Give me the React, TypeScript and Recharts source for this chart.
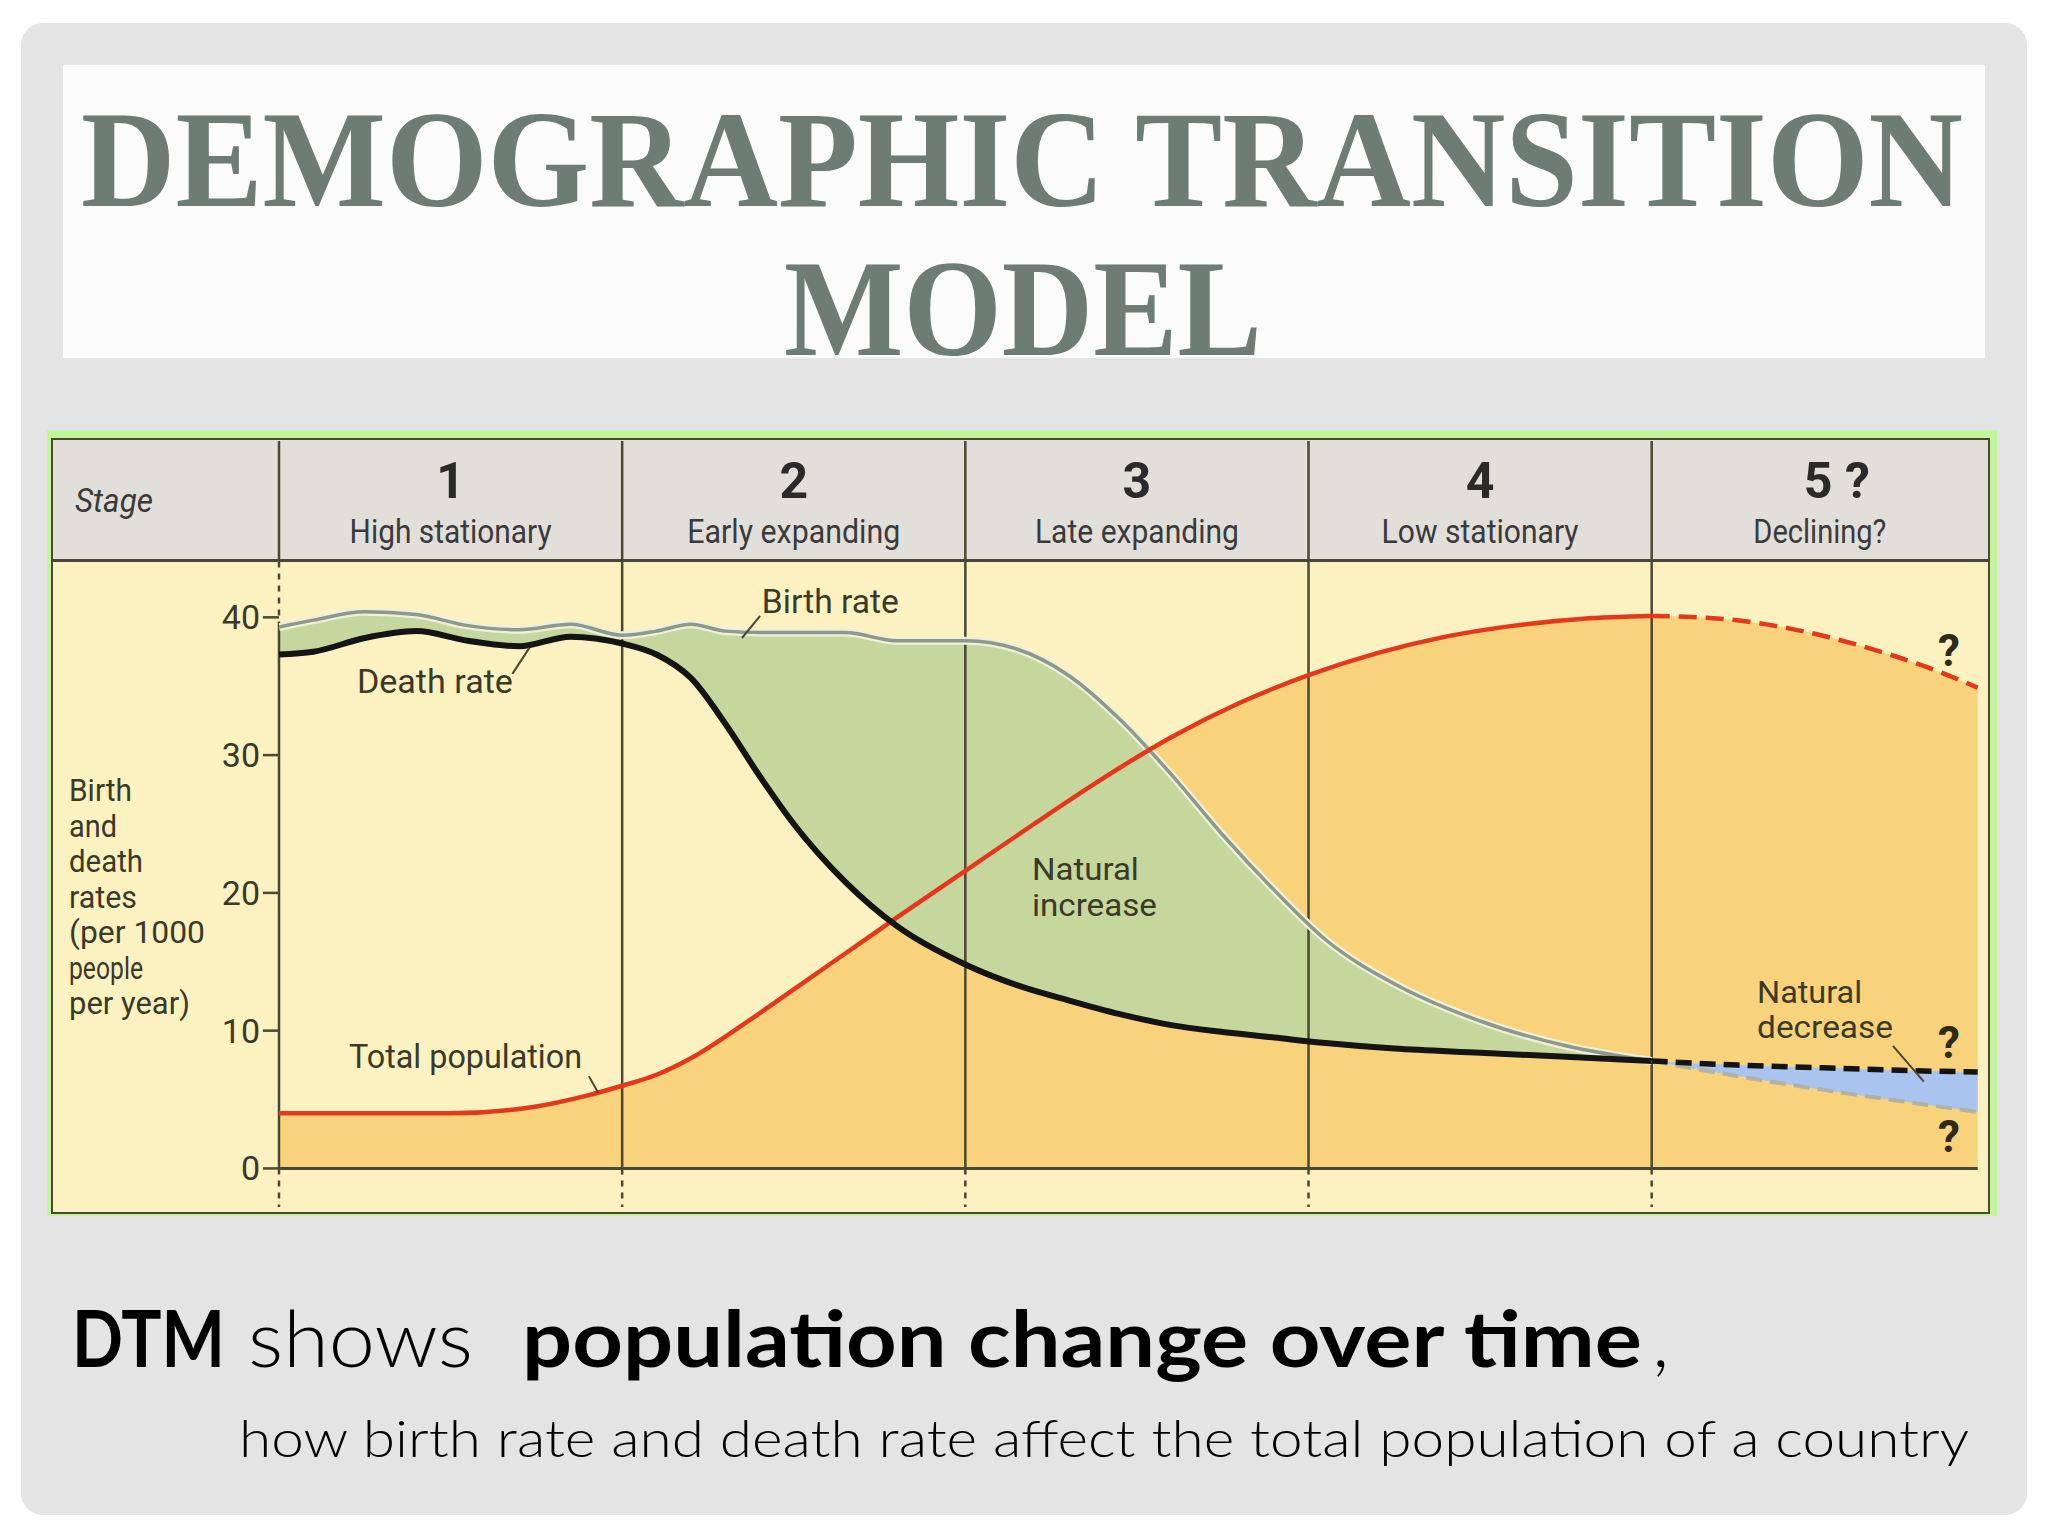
import {
  ComposedChart,
  Area,
  Line,
  XAxis,
  YAxis,
  ReferenceLine,
  ReferenceDot,
} from 'recharts';

// x = position in stages (0 = start of stage 1, 4 = start of stage 5)
const rateX = [0, 0.1, 0.25, 0.4, 0.55, 0.7, 0.85, 1.0, 1.1, 1.2, 1.3, 1.4, 1.5, 1.65, 1.8, 2.0, 2.15, 2.3, 2.45, 2.6, 2.75, 2.9, 3.05, 3.25, 3.5, 3.75, 4.0];
const birthRate = [39.3, 39.8, 40.4, 40.2, 39.4, 39.1, 39.5, 38.7, 39.0, 39.5, 39.0, 38.9, 38.9, 38.9, 38.3, 38.3, 37.7, 35.8, 32.6, 28.6, 24.2, 20.2, 16.6, 13.4, 10.7, 8.9, 7.8];
const deathRate = [37.3, 37.5, 38.5, 39.0, 38.3, 37.9, 38.6, 38.1, 37.3, 35.6, 32.3, 28.5, 25.0, 20.8, 17.6, 14.8, 13.3, 12.2, 11.2, 10.4, 9.9, 9.5, 9.1, 8.7, 8.4, 8.1, 7.8];

const popX = [0, 0.25, 0.5, 0.75, 0.9, 1.0, 1.1, 1.2, 1.35, 1.5, 1.65, 1.8, 2.0, 2.2, 2.4, 2.6, 2.8, 3.0, 3.2, 3.4, 3.6, 3.8, 4.0, 4.2, 4.4, 4.6, 4.8, 4.95];
const totalPop = [4.0, 4.0, 4.0, 4.5, 5.3, 6.0, 6.8, 8.0, 10.4, 13.0, 15.6, 18.2, 21.6, 25.0, 28.3, 31.3, 33.8, 35.8, 37.4, 38.6, 39.4, 39.9, 40.1, 39.9, 39.2, 38.0, 36.4, 34.9];

// stage 5 projections
const projX = [4.0, 4.25, 4.5, 4.75, 4.95];
const projDeath = [7.8, 7.5, 7.3, 7.1, 7.0];
const projBirth = [7.8, 6.7, 5.7, 4.8, 4.1];

const yTicks = [0, 10, 20, 30, 40];
const stageNums = ['1', '2', '3', '4', '5 ?'];
const stageNames = ['High stationary', 'Early expanding', 'Late expanding', 'Low stationary', 'Declining?'];
const stageNameW = [202, 213, 204, 197, 133];
const yTitle = ['Birth', 'and', 'death', 'rates', '(per 1000', 'people', 'per year)'];
const yTitleW = [63, 48, 74, 68, 136, 74, 121];

const notes = [
  { s: 1.407, v: 40.3, text: 'Birth rate', w: 137, size: 34 },
  { s: 0.227, v: 34.5, text: 'Death rate', w: 156, size: 34 },
  { s: 0.204, v: 7.3, text: 'Total population', w: 233, size: 34 },
  { s: 2.194, v: 20.9, text: 'Natural', w: 107, size: 31 },
  { s: 2.194, v: 18.3, text: 'increase', w: 125, size: 31 },
  { s: 4.307, v: 12.0, text: 'Natural', w: 105, size: 31 },
  { s: 4.307, v: 9.5, text: 'decrease', w: 136, size: 31 },
];
const questionMarks = [36.5, 8.0, 1.2];
const leaders = [
  [1.402, 40.1, 1.349, 38.5],
  [0.68, 35.9, 0.73, 37.8],
  [0.903, 6.7, 0.93, 5.5],
  [4.703, 8.9, 4.793, 6.3],
];

const birthData = rateX.map((s, i) => ({ s, v: birthRate[i] }));
const deathData = rateX.map((s, i) => ({ s, v: deathRate[i] }));
const gapData = rateX.map((s, i) => ({ s, range: [deathRate[i], birthRate[i]] }));
const popData = popX.map((s, i) => ({ s, v: totalPop[i] }));
const popSolid = popData.filter((d) => d.s <= 4);
const popDash = popData.filter((d) => d.s >= 4);
const projDeathData = projX.map((s, i) => ({ s, v: projDeath[i] }));
const projBirthData = projX.map((s, i) => ({ s, v: projBirth[i] }));
const projGap = projX.map((s, i) => ({ s, range: [projBirth[i], projDeath[i]] }));

const CHART = { left: 53, top: 441, width: 1935, height: 766 };
const PLOT_LEFT = 279;
const Y_AXIS_W = 70;
const X_MAX = 4.98;
const Y_MIN = -2.8;
const Y_MAX = 52.8;
const HEADER_V = 44.05;
const stagePx = (CHART.left + CHART.width - PLOT_LEFT) / X_MAX;
const sx = (s: number) => PLOT_LEFT + s * stagePx;

const INK = '#4a4733';
const TEXT = '#3b3928';
const FONT = 'Roboto, "Open Sans", sans-serif';
const TITLE_FONT = '"Liberation Serif", serif';

const noteShape = (text: string, w: number, size: number) => (p: any) => (
  <text
    x={p.cx}
    y={p.cy}
    fontFamily={FONT}
    fontSize={size}
    fill={TEXT}
    textLength={w}
    lengthAdjust="spacingAndGlyphs"
  >
    {text}
  </text>
);

const qShape = (p: any) => (
  <text x={p.cx} y={p.cy} fontFamily={FONT} fontSize={44} fontWeight={700} fill="#2e2b1c" textAnchor="middle">
    ?
  </text>
);

export default function App() {
  const stageCenters = [0, 1, 2, 3].map((i) => sx(i + 0.5)).concat([(sx(4) + CHART.left + CHART.width) / 2]);

  return (
    <div style={{ position: 'absolute', left: 0, top: 0, width: 2048, height: 1536, background: '#ffffff', overflow: 'hidden' }}>
      {/* slide */}
      <div style={{ position: 'absolute', left: 21, top: 23, width: 2006, height: 1492, background: '#e4e4e4', borderRadius: 22 }} />
      <div style={{ position: 'absolute', left: 63, top: 65, width: 1922, height: 293, background: '#fbfbfb' }} />

      {/* chart frame */}
      <div style={{ position: 'absolute', left: 47, top: 430, width: 1950, height: 786, background: '#c3f59d' }} />
      <div
        style={{
          position: 'absolute',
          left: 51,
          top: 438,
          width: 1939,
          height: 776,
          boxSizing: 'border-box',
          border: `2.5px solid ${INK}`,
          background: '#fcf2c1',
        }}
      />
      <div
        style={{
          position: 'absolute',
          left: 53,
          top: 440,
          width: 1935,
          height: 122,
          boxSizing: 'border-box',
          borderBottom: `3px solid ${INK}`,
          background: '#e2deda',
        }}
      />

      <div style={{ position: 'absolute', left: CHART.left, top: CHART.top }}>
        <ComposedChart
          width={CHART.width}
          height={CHART.height}
          margin={{ top: 0, right: 0, bottom: 0, left: PLOT_LEFT - CHART.left - Y_AXIS_W }}
        >
          <XAxis type="number" dataKey="s" domain={[0, X_MAX]} hide allowDataOverflow />
          <YAxis
            type="number"
            domain={[Y_MIN, Y_MAX]}
            ticks={yTicks}
            interval={0}
            allowDataOverflow
            width={Y_AXIS_W}
            axisLine={false}
            tickLine={{ stroke: INK, strokeWidth: 2.5 }}
            tickSize={16}
            tickMargin={3}
            tick={{ fontSize: 34, fill: TEXT, fontFamily: FONT }}
          />

          <Area data={popData} dataKey="v" type="monotone" baseValue={0} fill="#f8d37b" fillOpacity={1} stroke="none" isAnimationActive={false} />
          <Area data={gapData} dataKey="range" type="monotone" fill="#c6d79d" fillOpacity={1} stroke="none" isAnimationActive={false} />
          <Area data={projGap} dataKey="range" type="monotone" fill="#a9c4ef" fillOpacity={1} stroke="none" isAnimationActive={false} />

          {/* stage dividers */}
          <ReferenceLine isFront segment={[{ x: 0, y: Y_MAX }, { x: 0, y: HEADER_V }]} stroke={INK} strokeWidth={2.5} />
          <ReferenceLine isFront segment={[{ x: 0, y: HEADER_V }, { x: 0, y: 39.3 }]} stroke={INK} strokeWidth={2.5} strokeDasharray="6 6" />
          <ReferenceLine isFront segment={[{ x: 0, y: 39.3 }, { x: 0, y: 0 }]} stroke={INK} strokeWidth={2.5} />
          {[1, 2, 3, 4].map((s) => (
            <ReferenceLine key={`d${s}`} isFront segment={[{ x: s, y: Y_MAX }, { x: s, y: 0 }]} stroke={INK} strokeWidth={2.5} />
          ))}
          {[0, 1, 2, 3, 4].map((s) => (
            <ReferenceLine key={`b${s}`} isFront segment={[{ x: s, y: 0 }, { x: s, y: Y_MIN }]} stroke={INK} strokeWidth={2.5} strokeDasharray="6 6" />
          ))}
          <ReferenceLine isFront segment={[{ x: 0, y: 0 }, { x: 4.95, y: 0 }]} stroke={INK} strokeWidth={3} />

          <Line data={birthData} dataKey="v" type="monotone" stroke="#eef0da" strokeWidth={8} dot={false} isAnimationActive={false} />
          <Line data={birthData} dataKey="v" type="monotone" stroke="#8d998a" strokeWidth={3.5} dot={false} isAnimationActive={false} />
          <Line data={popSolid} dataKey="v" type="monotone" stroke="#e3381b" strokeWidth={4.5} dot={false} isAnimationActive={false} />
          <Line data={popDash} dataKey="v" type="monotone" stroke="#e3381b" strokeWidth={4.5} strokeDasharray="18 9" dot={false} isAnimationActive={false} />
          <Line data={deathData} dataKey="v" type="monotone" stroke="#141414" strokeWidth={6} dot={false} isAnimationActive={false} />
          <Line data={projBirthData} dataKey="v" type="monotone" stroke="#b3b1a4" strokeWidth={4} strokeDasharray="16 8" dot={false} isAnimationActive={false} />
          <Line data={projDeathData} dataKey="v" type="monotone" stroke="#141414" strokeWidth={5.5} strokeDasharray="16 8" dot={false} isAnimationActive={false} />

          {leaders.map((l, i) => (
            <ReferenceLine key={`l${i}`} isFront segment={[{ x: l[0], y: l[1] }, { x: l[2], y: l[3] }]} stroke={INK} strokeWidth={2} />
          ))}
          {notes.map((n, i) => (
            <ReferenceDot key={`n${i}`} isFront x={n.s} y={n.v} r={0} shape={noteShape(n.text, n.w, n.size)} />
          ))}
          {questionMarks.map((v, i) => (
            <ReferenceDot key={`q${i}`} isFront x={4.866} y={v} r={0} shape={qShape} />
          ))}
        </ComposedChart>
      </div>

      <svg width={2048} height={1536} style={{ position: 'absolute', left: 0, top: 0, pointerEvents: 'none' }}>
        <text transform="translate(81 206) scale(1 1.37)" x={0} y={0} textLength={1882} lengthAdjust="spacingAndGlyphs" fontFamily={TITLE_FONT} fontWeight={700} fontSize={100} fill="#6d7d75">
          DEMOGRAPHIC TRANSITION
        </text>
        <text transform="translate(784 355) scale(1 1.37)" x={0} y={0} textLength={478} lengthAdjust="spacingAndGlyphs" fontFamily={TITLE_FONT} fontWeight={700} fontSize={100} fill="#6d7d75">
          MODEL
        </text>

        <text x={75} y={512} textLength={78} lengthAdjust="spacingAndGlyphs" fontFamily={FONT} fontStyle="italic" fontSize={34} fill="#3a3a3a">
          Stage
        </text>
        {stageCenters.map((c, i) => (
          <g key={i}>
            <text x={i === 4 ? c + 17 : c} y={498} textAnchor="middle" fontFamily={FONT} fontWeight={700} fontSize={50} fill="#2a2a2a">
              {stageNums[i]}
            </text>
            <text x={c} y={543} textAnchor="middle" textLength={stageNameW[i]} lengthAdjust="spacingAndGlyphs" fontFamily={FONT} fontSize={34} fill="#3a3a3a">
              {stageNames[i]}
            </text>
          </g>
        ))}

        {yTitle.map((t, i) => (
          <text key={t} x={69} y={801 + i * 35.5} textLength={yTitleW[i]} lengthAdjust="spacingAndGlyphs" fontFamily={FONT} fontSize={31} fill={TEXT}>
            {t}
          </text>
        ))}

        <g fontFamily='Lato, "Open Sans", sans-serif' fill="#000000">
          <text x={72} y={1367} textLength={153} lengthAdjust="spacingAndGlyphs" fontSize={79} fontWeight={700}>DTM</text>
          <text x={248} y={1367} textLength={225} lengthAdjust="spacingAndGlyphs" fontSize={79} fontWeight={300}>shows</text>
          <text x={522} y={1367} textLength={1120} lengthAdjust="spacingAndGlyphs" fontSize={79} fontWeight={700}>population change over time</text>
          <text x={1652} y={1367} fontSize={79} fontWeight={300}>,</text>
          <text x={239} y={1457} textLength={1730} lengthAdjust="spacingAndGlyphs" fontSize={52} fontWeight={300}>
            how birth rate and death rate affect the total population of a country
          </text>
        </g>
      </svg>
    </div>
  );
}
